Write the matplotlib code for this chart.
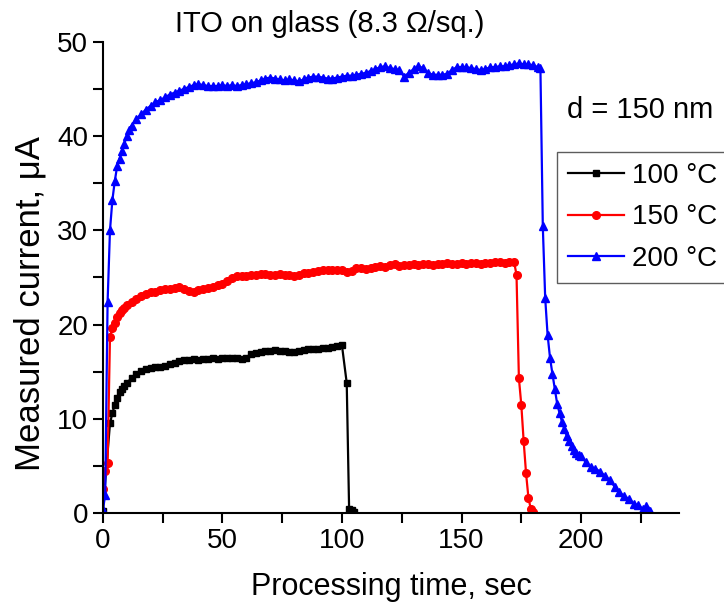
import matplotlib
matplotlib.use('Agg')
import matplotlib.pyplot as plt
from matplotlib.ticker import MultipleLocator

plt.rcParams['font.family'] = ['Liberation Sans', 'DejaVu Sans']

# ---- data ----
t_100 = [0, 3, 4, 5, 6, 7, 8, 9, 10, 12, 14, 16, 18, 20, 22, 24, 26, 28, 30, 32,
         34, 36, 38, 40, 42, 44, 46, 48, 50, 52, 54, 56, 58, 60, 62, 64, 66, 68,
         70, 72, 74, 76, 78, 80, 82, 84, 86, 88, 90, 92, 94, 96, 98, 100,
         102, 103, 104, 105]
i_100 = [0.2, 9.5, 10.6, 11.5, 12.2, 12.8, 13.2, 13.5, 13.8, 14.3, 14.7, 15.1,
         15.3, 15.4, 15.5, 15.5, 15.6, 15.8, 15.9, 16.1, 16.2, 16.2, 16.3, 16.2,
         16.3, 16.3, 16.4, 16.3, 16.5, 16.4, 16.5, 16.4, 16.3, 16.5, 16.9, 17.0,
         17.1, 17.2, 17.2, 17.3, 17.2, 17.2, 17.1, 17.1, 17.2, 17.3, 17.4, 17.4,
         17.4, 17.5, 17.5, 17.6, 17.7, 17.8, 13.8, 0.4, 0.3, 0.1]

t_150 = [0, 1, 2, 3, 4, 5, 6, 7, 8, 9, 10, 12, 14, 16, 18, 20, 22, 24, 26, 28,
         30, 32, 34, 36, 38, 40, 42, 44, 46, 48, 50, 52, 54, 56, 58, 60, 62, 64,
         66, 68, 70, 72, 74, 76, 78, 80, 82, 84, 86, 88, 90, 92, 94, 96, 98, 100,
         102, 104, 106, 108, 110, 112, 114, 116, 118, 120, 122, 124, 126, 128,
         130, 132, 134, 136, 138, 140, 142, 144, 146, 148, 150, 152, 154, 156,
         158, 160, 162, 164, 166, 168, 170, 172, 173, 174, 175, 176, 177, 178,
         179, 180]
i_150 = [2.5, 4.5, 5.3, 18.7, 19.6, 20.2, 20.8, 21.2, 21.5, 21.8, 22.1, 22.4,
         22.7, 23.0, 23.2, 23.4, 23.5, 23.7, 23.8, 23.8, 23.9, 24.0, 23.8, 23.6,
         23.5, 23.7, 23.8, 23.9, 24.0, 24.2, 24.3, 24.6, 24.9, 25.1, 25.2, 25.2,
         25.3, 25.3, 25.4, 25.4, 25.3, 25.3, 25.4, 25.3, 25.3, 25.2, 25.3, 25.5,
         25.5, 25.6, 25.7, 25.8, 25.8, 25.8, 25.8, 25.8, 25.6, 25.7, 26.0, 26.0,
         25.9, 26.0, 26.1, 26.2, 26.1, 26.3, 26.4, 26.2, 26.3, 26.3, 26.4, 26.3,
         26.4, 26.4, 26.3, 26.4, 26.4, 26.5, 26.4, 26.4, 26.5, 26.4, 26.5, 26.5,
         26.4, 26.5, 26.5, 26.6, 26.6, 26.5, 26.6, 26.6, 25.3, 14.3, 11.5, 7.6,
         4.2, 1.6, 0.4, 0.1]

t_200 = [0, 1, 2, 3, 4, 5, 6, 7, 8, 9, 10, 11, 12, 14, 16, 18, 20, 22, 24, 26,
         28, 30, 32, 34, 36, 38, 40, 42, 44, 46, 48, 50, 52, 54, 56, 58, 60, 62,
         64, 66, 68, 70, 72, 74, 76, 78, 80, 82, 84, 86, 88, 90, 92, 94, 96, 98,
         100, 102, 104, 106, 108, 110, 112, 114, 116, 118, 120, 122, 124, 126,
         128, 130, 132, 134, 136, 138, 140, 142, 144, 146, 148, 150, 152, 154,
         156, 158, 160, 162, 164, 166, 168, 170, 172, 174, 176, 178, 180, 182,
         183, 184, 185, 186, 187, 188, 189, 190, 191, 192, 193, 194, 195, 196,
         197, 198, 199, 200, 202, 204, 206, 208, 210, 212, 214, 216, 218, 220,
         222, 224, 226, 227, 228, 229]
i_200 = [0.3, 1.9, 22.4, 30.0, 33.2, 35.2, 36.8, 37.6, 38.4, 39.2, 40.0, 40.6,
         41.1, 41.8, 42.3, 42.8, 43.2, 43.6, 43.8, 44.1, 44.4, 44.6, 44.8, 45.0,
         45.2, 45.4, 45.5, 45.4, 45.3, 45.3, 45.3, 45.4, 45.3, 45.4, 45.3, 45.4,
         45.5, 45.6, 45.7, 45.9, 46.1, 46.2, 46.1, 46.0, 45.9, 46.0, 45.9, 45.8,
         46.0, 46.2, 46.3, 46.3, 46.2, 46.1, 46.1, 46.2, 46.3, 46.4, 46.4, 46.5,
         46.6, 46.7, 46.9, 47.1, 47.3, 47.4, 47.2, 47.1, 47.0, 46.3, 46.7, 47.1,
         47.4, 47.2, 46.7, 46.5, 46.5, 46.5, 46.6, 47.0, 47.3, 47.3, 47.3, 47.2,
         47.1, 47.0, 47.1, 47.3, 47.3, 47.4, 47.4, 47.5, 47.6, 47.7, 47.6, 47.6,
         47.5, 47.3, 47.2, 30.4, 22.8, 18.9, 16.5, 14.8, 13.2, 11.6, 10.6, 9.7,
         8.9, 8.2, 7.6, 7.1, 6.7, 6.4, 6.2, 6.0, 5.4, 4.9, 4.7, 4.4, 3.9, 3.5,
         2.8, 2.2, 1.8, 1.5, 1.0, 0.8, 0.4, 0.7, 0.3, 0.2]

fig = plt.figure(figsize=(7.24, 6.05), dpi=100)
ax = fig.add_axes([0.142, 0.152, 0.796, 0.779])

ax.plot(t_100, i_100, 's-', color='black', lw=1.6, ms=5, label='100 °C')
ax.plot(t_150, i_150, 'o-', color='red', lw=1.6, ms=5.5, label='150 °C')
ax.plot(t_200, i_200, '^-', color='blue', lw=1.6, ms=6, label='200 °C')

ax.set_xlim(0, 241)
ax.set_ylim(0, 50)
ax.xaxis.set_major_locator(MultipleLocator(50))
ax.xaxis.set_minor_locator(MultipleLocator(25))
ax.yaxis.set_major_locator(MultipleLocator(10))
ax.yaxis.set_minor_locator(MultipleLocator(5))
ax.tick_params(which='both', direction='out', length=7, width=1.5, labelsize=20)
ax.spines['top'].set_visible(False)
ax.spines['right'].set_visible(False)
ax.spines['left'].set_linewidth(1.5)
ax.spines['bottom'].set_linewidth(1.5)

ax.set_xlabel('Processing time, sec', fontsize=22)
ax.set_ylabel('Measured current, μA', fontsize=25)
ax.xaxis.set_label_coords(0.5, -0.125)
ax.yaxis.set_label_coords(-0.097, 0.444)

ax.text(94.8, 51.9, 'ITO on glass (8.3 Ω/sq.)', fontsize=21, ha='center',
        va='center', clip_on=False)
ax.text(194, 42.8, 'd = 150 nm', fontsize=21, ha='left', va='center',
        clip_on=False)

leg = ax.legend(loc='upper left', bbox_to_anchor=(0.788, 0.766), fontsize=20,
                frameon=True, fancybox=False, handlelength=2.0,
                labelspacing=0.55, borderpad=0.4, handletextpad=0.3,
                borderaxespad=0)
leg.get_frame().set_edgecolor('#333333')
leg.get_frame().set_linewidth(1.0)

fig.savefig('out.png', dpi=100)
